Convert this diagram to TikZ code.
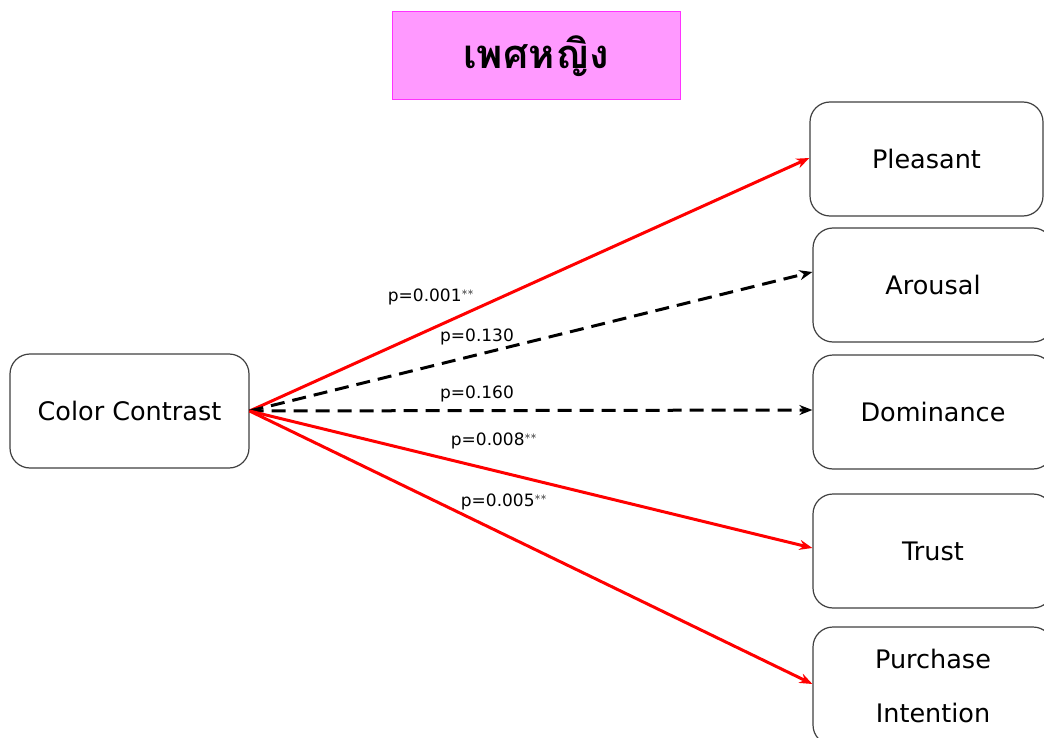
\documentclass[tikz,border=0pt]{standalone}
\usepackage{fontspec}
\setmainfont{DejaVu Sans}
\newfontfamily\thaifont[Script=Thai]{Loma}
\usetikzlibrary{arrows.meta}
\definecolor{titlefill}{HTML}{FF99FF}
\definecolor{titleline}{HTML}{FF33FF}
\begin{document}
\begin{tikzpicture}[x=1pt,y=-1pt,
  box/.style={draw=black!75,line width=1.2pt,rounded corners=20pt,fill=white,
    minimum height=114pt,align=center,font=\fontsize{25.5}{40}\selectfont},
  sig/.style={red,line width=3pt,-{Stealth[length=13pt,width=10pt]}},
  ns/.style={black,line width=3pt,dash pattern=on 14pt off 8pt,
    -{Stealth[length=13pt,width=10pt]}},
  plab/.style={font=\fontsize{17}{20}\selectfont,inner sep=1pt}]
\useasboundingbox (0,0) rectangle (1044,738);
% title
\node[draw=titleline,fill=titlefill,line width=1pt,minimum width=288pt,
  minimum height=88pt,font=\thaifont\fontsize{40}{46}\selectfont\bfseries]
  (title) at (536,56) {เพศหญิง};
% source and targets
\node[box,minimum width=239pt] (cc) at (129.5,411) {Color Contrast};
\node[box,minimum width=233pt] (ple) at (926.5,159) {Pleasant};
\node[box,minimum width=240pt] (aro) at (933,285) {Arousal};
\node[box,minimum width=240pt] (dom) at (933,412) {Dominance};
\node[box,minimum width=240pt] (tru) at (933,551) {Trust};
\node[box,minimum width=240pt,minimum height=118pt,font=\fontsize{25.5}{54}\selectfont]
  (pur) at (933,686) {Purchase\\Intention};
% paths
\coordinate (src) at (cc.east);
\draw[sig] (src) -- (ple.west |- 0,158);
\draw[ns]  (src) -- (aro.west |- 0,272);
\draw[ns]  (src) -- (dom.west |- 0,410);
\draw[sig] (src) -- (tru.west |- 0,548);
\draw[sig] (src) -- (pur.west |- 0,684);
% labels
\node[plab] (l1) at (431,297) {p=0.001$^{**}$};
\node[plab] (l2) at (477,337) {p=0.130};
\node[plab] (l3) at (477,394) {p=0.160};
\node[plab] (l4) at (494,441) {p=0.008$^{**}$};
\node[plab] (l5) at (504,502) {p=0.005$^{**}$};
\end{tikzpicture}
\end{document}
